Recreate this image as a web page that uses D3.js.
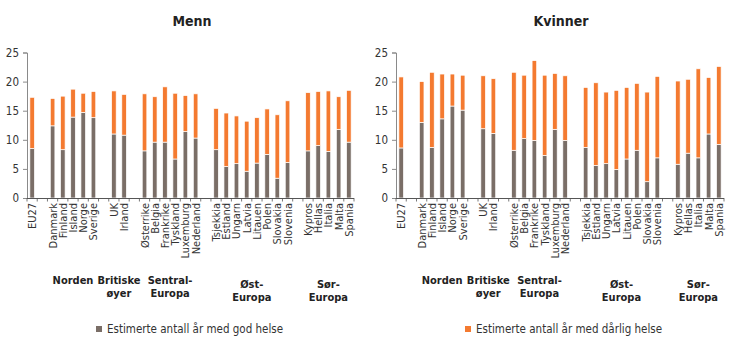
<!DOCTYPE html>
<html><head><meta charset="utf-8">
<script src="https://cdn.jsdelivr.net/npm/d3@7"></script>
<style>
body{margin:0;background:#fff;}
svg{display:block;}
text{font-family:"Liberation Sans Narrow","DejaVu Sans Condensed","Liberation Sans",sans-serif;}
</style></head>
<body>
<svg id="c" width="730" height="355"></svg>
<script>
const countries = ["EU27","Danmark","Finland","Island","Norge","Sverige","UK","Irland",
 "Østerrike","Belgia","Frankrike","Tyskland","Luxemburg","Nederland",
 "Tsjekkia","Estland","Ungarn","Latvia","Litauen","Polen","Slovakia","Slovenia",
 "Kypros","Hellas","Italia","Malta","Spania"];
const groupNames = [[""],["Norden"],["Britiske","øyer"],["Sentral-","Europa"],["Øst-","Europa"],["Sør-","Europa"]];
const groupSizes = [1,5,2,6,8,5];
const mennGood = [8.5,12.4,8.3,13.9,14.7,13.8,11.0,10.8,8.1,9.6,9.6,6.7,11.4,10.3,8.3,5.4,5.9,4.6,6.0,7.5,3.4,6.1,8.1,9.0,8.0,11.8,9.6];
const mennBad  = [8.8,4.7,9.2,4.8,3.3,4.5,7.4,7.0,9.8,7.8,9.5,11.3,6.2,7.6,7.1,9.2,8.2,8.6,7.8,7.8,10.9,10.6,10.0,9.3,10.4,5.6,8.9];
const kvinnerGood = [8.6,13.0,8.7,13.6,15.8,15.1,11.9,11.1,8.2,10.2,9.9,7.3,11.8,9.9,8.7,5.6,5.9,4.9,6.7,8.2,2.8,6.9,5.8,7.7,6.9,11.0,9.2];
const kvinnerBad  = [12.2,7.0,12.9,7.7,5.5,6.0,9.1,9.4,13.4,10.9,13.7,13.8,9.6,11.1,10.3,14.2,12.3,13.6,12.3,11.5,15.4,14.0,14.3,12.7,15.3,9.7,13.4];
const yTicks = [0,5,10,15,20,25];
const titles = ["Menn","Kvinner"];
const legendLabels = ["Estimerte antall år med god helse","Estimerte antall år med dårlig helse"];
const colors = ["#7a6e67","#f47a30"];

// build slot domain with gaps
const slots = [];
const groupMembers = [];
let ci = 0;
groupSizes.forEach((n,gi)=>{
  if(gi>0) slots.push("gap"+gi);
  const mem=[];
  for(let k=0;k<n;k++){ slots.push(countries[ci]); mem.push(countries[ci]); ci++; }
  groupMembers.push(mem);
});

const svg = d3.select("#c");
const panels = [
  {title:titles[0], good:mennGood, bad:mennBad, x0:27, x1:354, cx:192},
  {title:titles[1], good:kvinnerGood, bad:kvinnerBad, x0:396, x1:724, cx:561}
];
const y = d3.scaleLinear().domain([0,25]).range([198,52.5]);

panels.forEach(p=>{
  const g = svg.append("g");
  const x = d3.scaleBand().domain(slots).range([p.x0,p.x1]).paddingInner(0.55).paddingOuter(0.28);
  g.append("text").attr("x",p.cx).attr("y",26).attr("text-anchor","middle")
   .attr("font-size",14).attr("font-weight","bold").attr("fill","#222").text(p.title);

  // y axis
  const ya = g.append("g").attr("transform",`translate(${p.x0},0)`)
    .call(d3.axisLeft(y).tickValues(yTicks).tickSize(4).tickPadding(4));
  ya.select(".domain").attr("stroke","#8a8a8a");
  ya.selectAll(".tick line").attr("stroke","#8a8a8a");
  ya.selectAll("text").attr("font-size",11.5).attr("fill","#333");

  // bars
  const data = countries.map((c,i)=>({c, good:p.good[i], bad:p.bad[i]}));
  const stack = d3.stack().keys(["good","bad"])(data);
  stack.forEach((s,si)=>{
    g.append("g").selectAll("rect").data(s).join("rect")
      .attr("x",d=>x(d.data.c)).attr("width",x.bandwidth())
      .attr("y",d=>y(d[1])).attr("height",d=>y(d[0])-y(d[1]))
      .attr("fill",colors[si]).attr("stroke","#fff").attr("stroke-width",0.7);
  });

  // x axis line and ticks at slot boundaries
  g.append("line").attr("x1",p.x0).attr("x2",p.x1).attr("y1",y(0)+0.5).attr("y2",y(0)+0.5)
    .attr("stroke","#555").attr("stroke-width",1);
  const bounds = d3.range(slots.length+1).map(i=>p.x0 + (p.x1-p.x0)*i/slots.length);
  g.append("g").selectAll("line").data(bounds).join("line")
    .attr("x1",d=>d).attr("x2",d=>d).attr("y1",y(0)).attr("y2",y(0)+3.5)
    .attr("stroke","#555").attr("stroke-width",0.8);

  // country labels
  g.append("g").selectAll("text").data(countries).join("text")
    .attr("transform",d=>`translate(${x(d)+x.bandwidth()/2+4},${y(0)+5}) rotate(-90)`)
    .attr("text-anchor","end").attr("font-size",11).attr("fill","#333").text(d=>d);

  // group labels
  groupMembers.forEach((mem,gi)=>{
    const lines = groupNames[gi];
    if(!lines[0]) return;
    const cx = (x(mem[0]) + x(mem[mem.length-1]) + x.bandwidth())/2;
    const base = gi>=4 ? 288 : 284;
    lines.forEach((t,li)=>{
      g.append("text").attr("x",cx).attr("y",base+li*12.5).attr("text-anchor","middle")
        .attr("font-size",11).attr("font-weight","bold").attr("fill","#222").text(t);
    });
  });
});

// legend
const leg = [{x:96},{x:465}];
leg.forEach((l,i)=>{
  svg.append("rect").attr("x",l.x).attr("y",326).attr("width",6).attr("height",6).attr("fill",colors[i]);
  svg.append("text").attr("x",l.x+11).attr("y",333).attr("font-size",11.5).attr("fill","#333").text(legendLabels[i]);
});
</script>
</body></html>
